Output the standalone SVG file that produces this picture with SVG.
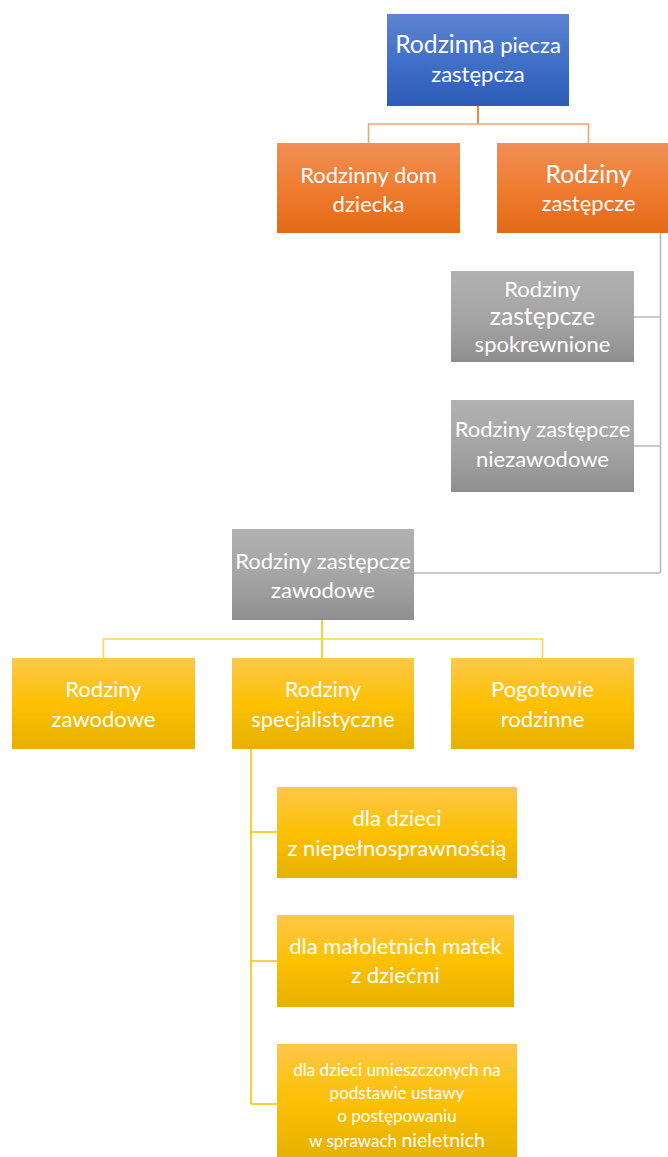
<svg xmlns="http://www.w3.org/2000/svg" width="668" height="1157" viewBox="0 0 668 1157">
<defs>
<linearGradient id="gBlue" x1="0" y1="0" x2="0" y2="1">
<stop offset="0" stop-color="#5d84d2"/><stop offset="0.5" stop-color="#4170c8"/><stop offset="1" stop-color="#2d5cb8"/>
</linearGradient>
<linearGradient id="gOrange" x1="0" y1="0" x2="0" y2="1">
<stop offset="0" stop-color="#f08f56"/><stop offset="0.5" stop-color="#f07c30"/><stop offset="1" stop-color="#e26a17"/>
</linearGradient>
<linearGradient id="gGray" x1="0" y1="0" x2="0" y2="1">
<stop offset="0" stop-color="#b1b1b1"/><stop offset="0.5" stop-color="#a5a5a5"/><stop offset="1" stop-color="#8f8f8f"/>
</linearGradient>
<linearGradient id="gYellow" x1="0" y1="0" x2="0" y2="1">
<stop offset="0" stop-color="#fec84a"/><stop offset="0.5" stop-color="#fdc003"/><stop offset="1" stop-color="#e6b100"/>
</linearGradient>
</defs>
<style>
text{font-family:Lato,"Open Sans","Liberation Sans",sans-serif;fill:#ffffff;font-size:22px;text-anchor:middle}
.b{font-size:24.7px}
.s{font-size:17px}
.m{font-size:19.5px}
.blue{fill:url(#gBlue)}
.orange{fill:url(#gOrange)}
.gray{fill:url(#gGray)}
.yellow{fill:url(#gYellow)}
.cO{stroke:#f4a46c;stroke-width:1.6;fill:none}
.cOv{stroke:#f07e2e;stroke-width:1.8;fill:none}
.cG{stroke:#b9b9b9;stroke-width:1.6;fill:none}
.cY{stroke:#ffc000;stroke-width:1.6;fill:none}
.cYh{stroke:#ffd35a;stroke-width:1.6;fill:none}
</style>
<g id="connectors">
<path class="cOv" d="M478 106 V124"/>
<path class="cO" d="M368.5 143 V124 H588.5 V143"/>
<path class="cG" d="M660.5 233 V573 M660.5 317 H634 M660.5 446 H634 M660.5 573 H414"/>
<path class="cY" d="M322 620 V658"/>
<path class="cYh" d="M103.5 658 V639 H542.5 V658"/>
<path class="cY" d="M251 749 V1104 M251 832 H277 M251 961 H277 M251 1104 H277"/>
</g>
<g id="n1"><rect class="blue" x="387" y="14" width="182" height="92"/>
<text x="478" y="53"><tspan class="b">Rodzinna</tspan> piecza</text>
<text x="478" y="82">zastępcza</text></g>
<g id="n2"><rect class="orange" x="277" y="143" width="183" height="90"/>
<text x="368.5" y="183">Rodzinny dom</text>
<text x="368.5" y="212">dziecka</text></g>
<g id="n3"><rect class="orange" x="497" y="143" width="183" height="90"/>
<text class="b" x="588.5" y="183">Rodziny</text>
<text x="588.5" y="211">zastępcze</text></g>
<g id="n4"><rect class="gray" x="451" y="271" width="183" height="91"/>
<text x="542.5" y="297">Rodziny</text>
<text class="b" x="542.5" y="325">zastępcze</text>
<text x="542.5" y="352">spokrewnione</text></g>
<g id="n5"><rect class="gray" x="451" y="400" width="183" height="92"/>
<text x="542.5" y="437">Rodziny zastępcze</text>
<text x="542.5" y="467">niezawodowe</text></g>
<g id="n6"><rect class="gray" x="232" y="529" width="182" height="91"/>
<text x="323" y="569">Rodziny zastępcze</text>
<text x="323" y="598">zawodowe</text></g>
<g id="n7"><rect class="yellow" x="12" y="658" width="183" height="91"/>
<text x="103.5" y="697">Rodziny</text>
<text x="103.5" y="727">zawodowe</text></g>
<g id="n8"><rect class="yellow" x="232" y="658" width="182" height="91"/>
<text x="323" y="697">Rodziny</text>
<text x="323" y="727">specjalistyczne</text></g>
<g id="n9"><rect class="yellow" x="451" y="658" width="183" height="91"/>
<text x="542.5" y="697">Pogotowie</text>
<text x="542.5" y="727">rodzinne</text></g>
<g id="n10"><rect class="yellow" x="277" y="787" width="240" height="91"/>
<text x="397" y="826">dla dzieci</text>
<text x="397" y="856">z niepełnosprawnością</text></g>
<g id="n11"><rect class="yellow" x="277" y="915" width="237" height="92"/>
<text x="395.5" y="954">dla małoletnich matek</text>
<text x="395.5" y="983">z dziećmi</text></g>
<g id="n12"><rect class="yellow" x="277" y="1044" width="240" height="113"/>
<text class="s" x="397" y="1076">dla dzieci umieszczonych na</text>
<text class="s" x="397" y="1099">podstawie ustawy</text>
<text class="s" x="397" y="1122">o postępowaniu</text>
<text class="s" x="397" y="1147">w sprawach <tspan class="m">nieletnich</tspan></text></g>
</svg>
